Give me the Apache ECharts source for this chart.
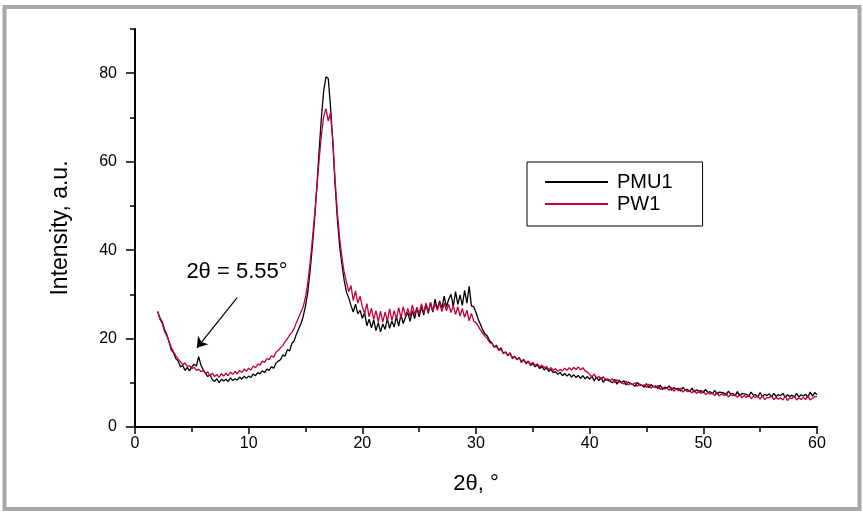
<!DOCTYPE html>
<html>
<head>
<meta charset="utf-8">
<script src="https://cdn.jsdelivr.net/npm/echarts@6/dist/echarts.min.js"></script>
<style>
html,body{margin:0;padding:0;background:#fff;}
#chart{width:863px;height:513px;}
</style>
</head>
<body>
<div id="chart"></div>
<script>
// 2θ grid: 2.0 to 60.0 degrees, step 0.2
const thetaStart = 2, thetaStep = 0.2;

const pmu1 = [
26.0,24.6,23.8,22.0,20.9, 19.2,17.4,16.8,15.4,14.9, 13.6,13.9,12.8,13.5,12.7, 13.6,14.2,13.8,15.9,14.0,
12.9,12.2,11.4,11.8,10.7, 10.3,10.9,10.0,10.8,10.4, 10.8,10.3,11.1,10.5,10.9, 10.6,11.3,10.8,11.5,11.0,
11.5,11.2,12.0,11.6,12.3, 12.0,12.7,12.3,13.1,12.8, 13.6,13.3,14.4,14.9,15.2, 16.3,16.0,17.5,17.2,18.9,
19.5,21.0,22.2,23.4,25.0, 27.4,30.5,35.2,40.8,47.0, 54.5,62.5,70.0,76.0,79.2, 78.8,72.5,64.5,55.0,47.2,
41.0,36.8,33.2,30.5,29.2, 27.5,26.0,27.8,25.6,26.4, 24.6,25.8,22.9,24.4,22.4, 24.2,21.8,23.6,21.5,23.3,
22.1,24.5,22.3,24.0,22.6, 25.0,22.8,25.4,23.4,24.9, 25.9,23.9,26.3,24.5,26.9, 24.9,27.2,25.3,27.8,25.7,
28.1,26.0,28.9,26.6,28.5, 26.8,29.6,27.1,28.9,30.0, 27.2,30.6,27.7,29.9,27.5, 30.9,28.0,31.8,27.4,27.2,
25.9,24.3,23.2,21.9,21.0, 20.6,19.5,19.0,18.1,18.5, 17.4,17.9,16.6,17.0,16.1, 16.8,15.5,16.0,15.2,15.7,
14.6,15.2,14.3,14.8,13.9, 14.4,13.6,14.1,13.2,13.7, 12.9,13.4,12.6,13.0,12.3, 12.5,11.9,12.4,11.6,12.1,
11.5,12.0,11.3,11.8,11.2, 11.7,11.0,11.6,10.9,11.4, 10.8,11.5,10.4,11.3,10.5, 11.2,10.1,10.9,10.6,10.3,
10.0,10.8,9.7,10.6,9.9, 10.5,9.5,10.2,9.8,9.6, 9.2,10.1,9.5,9.4,9.0, 9.8,8.9,9.6,9.1,9.3,
8.7,9.5,8.5,9.0,8.8, 9.3,8.3,8.9,8.6,8.7, 8.1,9.0,8.4,8.5,8.0, 8.8,7.9,8.4,8.1,8.2,
7.7,8.5,7.8,8.0,7.5, 8.3,7.4,7.9,7.8,7.7, 7.2,8.1,7.5,7.6,7.1, 8.0,7.0,7.6,7.5,7.4,
6.9,7.9,7.2,7.3,6.8, 7.8,6.9,7.4,7.1,7.5, 6.8,7.6,6.9,7.3,7.1, 7.6,6.7,7.3,6.9,7.2,
6.7,7.6,6.8,7.3,7.0, 7.4,6.7,7.9,7.0,7.8, 7.3
];

const pw1 = [
26.2,24.3,23.4,21.6,20.6, 19.4,17.9,17.0,16.1,15.3, 14.8,14.1,14.5,13.7,13.9, 13.2,13.5,12.8,13.1,12.5,
12.8,12.0,12.5,11.6,12.2, 11.4,11.9,11.2,12.1,11.5, 12.2,11.6,12.4,11.9,12.6, 12.0,12.8,12.3,13.1,12.6,
13.3,12.9,13.8,13.4,14.2, 14.0,14.9,14.6,15.5,15.2, 16.1,15.8,16.9,17.3,17.9, 18.4,19.3,19.9,20.8,21.4,
22.3,23.6,24.8,26.0,27.2, 29.4,32.6,37.0,42.2,48.0, 54.0,60.5,66.0,70.2,72.0, 69.2,71.0,65.0,56.0,48.5,
42.8,38.5,35.0,32.8,30.6, 32.0,28.6,30.8,28.0,29.6, 27.2,25.6,27.9,24.9,26.9, 24.3,26.3,23.8,26.2,23.7,
26.0,24.0,26.7,24.1,26.3, 24.4,27.0,24.7,27.2,25.0, 26.8,25.0,27.6,25.4,27.1, 25.6,27.9,25.8,28.0,26.0,
28.2,26.2,27.9,26.4,28.1, 26.1,28.0,26.3,27.7,25.9, 27.5,25.4,27.2,25.1,26.8, 24.8,26.4,24.0,25.7,23.9,
23.6,22.8,21.9,21.2,20.5, 20.0,19.1,18.9,18.0,18.2, 17.3,17.6,16.7,16.9,16.2, 16.6,15.7,16.0,15.3,15.6,
14.9,15.3,14.5,14.9,14.2, 14.6,13.9,14.3,13.6,14.0, 13.4,13.7,13.0,13.4,12.8, 13.2,12.6,13.0,12.7,13.3,
12.8,13.4,12.9,13.5,13.0, 13.6,12.9,13.4,12.7,12.4, 11.9,11.3,12.0,11.0,11.5, 10.7,11.4,10.5,10.9,10.5,
10.9,10.0,10.7,10.1,10.2, 9.7,10.4,9.5,9.9,9.6, 10.0,9.2,9.7,9.4,9.5, 8.9,9.7,8.8,9.2,8.9,
9.4,8.5,9.0,8.6,8.8, 8.3,9.0,8.1,8.6,8.2, 8.8,7.9,8.4,8.0,8.2, 7.7,8.4,7.6,8.0,7.6,
8.2,7.3,7.8,7.4,7.7, 7.1,7.9,7.0,7.5,7.1, 7.7,6.8,7.3,7.1,7.2, 6.7,7.5,6.6,7.1,6.7,
7.3,6.4,6.9,6.7,6.9, 6.3,7.1,6.2,6.7,6.6, 7.1,6.2,6.7,6.3,6.6, 6.1,7.0,6.0,6.6,6.4,
7.1,6.1,6.6,6.2,6.7, 6.2,7.1,6.1,6.5,6.9, 6.8
];

const xTicks = [0, 10, 20, 30, 40, 50, 60];
const yMajorTicks = [0, 20, 40, 60, 80];
const yMinorTicks = [10, 30, 50, 70, 90];
const seriesNames = ['PMU1', 'PW1'];
const seriesColors = ['#000000', '#c4003b'];
const annotationText = '2\u03b8 = 5.55\u00b0';
const annotationTextAt = [8.97, 35.0];
const arrowFrom = [8.97, 29.2];
const arrowTo = [5.45, 17.9];

const toPairs = arr => arr.map((v, i) => [+(thetaStart + i * thetaStep).toFixed(2), v]);

const FONT = '"Liberation Sans", Arial, sans-serif';
const chart = echarts.init(document.getElementById('chart'), null, {renderer: 'canvas'});

chart.setOption({
  animation: false,
  backgroundColor: '#fff',
  textStyle: {fontFamily: FONT, color: '#000'},
  graphic: [{
    type: 'rect', silent: true, z: -1,
    shape: {x: 4.5, y: 7, width: 855, height: 502},
    style: {fill: 'none', stroke: '#a8a8a8', lineWidth: 4}
  }],
  grid: {left: 135, right: 46, top: 29, bottom: 86},
  legend: {
    data: seriesNames.map(n => ({name: n, icon: 'rect'})),
    orient: 'vertical',
    left: 527, top: 162,
    padding: [10, 30, 12, 18],
    itemWidth: 63, itemHeight: 2, itemGap: 2,
    borderColor: '#000', borderWidth: 1,
    textStyle: {fontFamily: FONT, fontSize: 20, color: '#000', padding: [0, 0, 0, 4]}
  },
  xAxis: {
    type: 'value', min: xTicks[0], max: xTicks[xTicks.length - 1], interval: 10,
    name: '2\u03b8, \u00b0', nameLocation: 'middle', nameGap: 46,
    nameTextStyle: {fontFamily: FONT, fontSize: 22, color: '#000'},
    axisLine: {lineStyle: {color: '#000', width: 2}},
    axisTick: {show: true, inside: false, length: 7, lineStyle: {color: '#000', width: 1.5}},
    minorTick: {show: true, splitNumber: 2, length: 5, lineStyle: {color: '#000', width: 1.5}},
    axisLabel: {fontFamily: FONT, fontSize: 16, color: '#000', margin: 9},
    splitLine: {show: false}
  },
  yAxis: [{
    type: 'value', min: 0, max: 90, interval: 10, position: 'left',
    name: 'Intensity, a.u.', nameLocation: 'middle', nameGap: 63,
    nameTextStyle: {fontFamily: FONT, fontSize: 23, color: '#000'},
    axisLine: {lineStyle: {color: '#000', width: 2}},
    axisTick: {show: true, length: 9, customValues: yMajorTicks, lineStyle: {color: '#000', width: 1.5}},
    axisLabel: {fontFamily: FONT, fontSize: 16, color: '#000', margin: 18, customValues: yMajorTicks},
    splitLine: {show: false}
  }, {
    type: 'value', min: 0, max: 90, interval: 10, position: 'left', offset: 0,
    axisLine: {show: false},
    axisTick: {show: true, length: 5, customValues: yMinorTicks, lineStyle: {color: '#000', width: 1.5}},
    axisLabel: {show: false},
    splitLine: {show: false}
  }],
  series: [{
    name: seriesNames[0], type: 'line', yAxisIndex: 0,
    data: toPairs(pmu1), symbol: 'none', smooth: false,
    lineStyle: {color: seriesColors[0], width: 1.3}, itemStyle: {color: seriesColors[0]},
    z: 2,
    markPoint: {
      silent: true, symbol: 'circle', symbolSize: 1,
      itemStyle: {color: 'rgba(0,0,0,0)'},
      label: {show: true, position: 'inside', formatter: annotationText,
              fontFamily: FONT, fontSize: 22, color: '#000'},
      data: [{coord: annotationTextAt}]
    },
    markLine: {
      silent: true, symbol: ['none', 'arrow'], symbolSize: 10,
      lineStyle: {color: '#000', width: 1.2, type: 'solid'},
      itemStyle: {color: '#000'},
      label: {show: false},
      data: [[{coord: arrowFrom}, {coord: arrowTo}]]
    }
  }, {
    name: seriesNames[1], type: 'line', yAxisIndex: 0,
    data: toPairs(pw1), symbol: 'none', smooth: false,
    lineStyle: {color: seriesColors[1], width: 1.3}, itemStyle: {color: seriesColors[1]},
    z: 3
  }]
});
</script>
</body>
</html>
